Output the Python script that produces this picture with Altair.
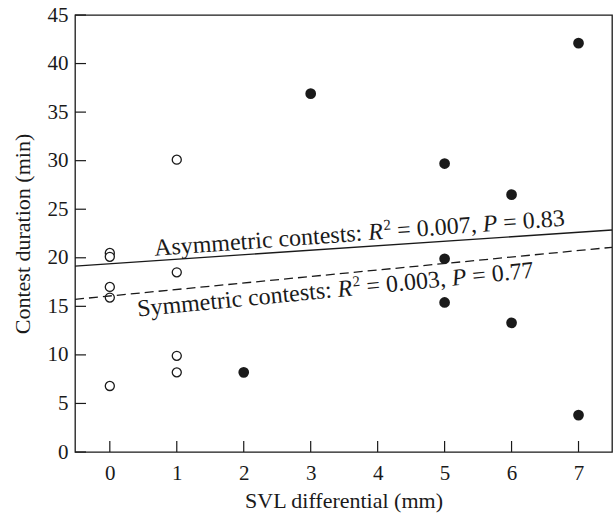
import altair as alt
import pandas as pd

# ---- data ----
sym_x = [0, 0, 0, 0, 0, 1, 1, 1, 1]
sym_y = [20.5, 20.1, 17.0, 15.9, 6.8, 30.1, 18.5, 9.9, 8.2]
asym_x = [2, 3, 5, 5, 5, 6, 6, 7, 7]
asym_y = [8.2, 36.9, 29.7, 19.9, 15.4, 26.5, 13.3, 42.1, 3.8]

line_x = [-0.52, 7.5]
asym_line_y = [19.15, 22.86]
sym_line_y = [15.72, 21.08]

x_ticks = [0, 1, 2, 3, 4, 5, 6, 7]
y_ticks = [0, 5, 10, 15, 20, 25, 30, 35, 40, 45]

asym_label = ["Asymmetric contests:", "R", "2", "= 0.007,", "P", "= 0.83"]
sym_label = ["Symmetric contests:", "R", "2", "= 0.003,", "P", "= 0.77"]
asym_anchor = (0.67, 20.2)
sym_anchor = (0.42, 13.95)

INK = "#1a1a1a"
FONT = "Liberation Serif"
W, H = 537, 437
FA = 24          # annotation font size
SUP = 15         # superscript size

xs = alt.Scale(domain=[-0.52, 7.5], nice=False, zero=False)
ys = alt.Scale(domain=[0, 45], nice=False, zero=False)

pts_sym = pd.DataFrame({"x": sym_x, "y": sym_y})
pts_asym = pd.DataFrame({"x": asym_x, "y": asym_y})
lines_df = pd.DataFrame({"x": line_x, "a": asym_line_y, "s": sym_line_y})

xaxis = alt.Axis(values=x_ticks, format="d", title="SVL differential (mm)",
                 labelPadding=10, titlePadding=7)
yaxis = alt.Axis(values=y_ticks, format="d", title="Contest duration (min)",
                 labelPadding=7, titlePadding=13)

open_pts = alt.Chart(pts_sym).mark_point(shape="circle", filled=False, size=82,
                                         stroke=INK, strokeWidth=1.3, fill="white",
                                         opacity=1).encode(
    x=alt.X("x:Q", scale=xs, axis=xaxis), y=alt.Y("y:Q", scale=ys, axis=yaxis))
fill_pts = alt.Chart(pts_asym).mark_point(shape="circle", filled=True, size=115,
                                          color=INK, opacity=1).encode(
    x=alt.X("x:Q", scale=xs), y=alt.Y("y:Q", scale=ys))

asym_line = alt.Chart(lines_df).mark_line(color=INK, strokeWidth=1.3).encode(
    x=alt.X("x:Q", scale=xs), y=alt.Y("a:Q", scale=ys))
sym_line = alt.Chart(lines_df).mark_line(color=INK, strokeWidth=1.3, strokeDash=[9, 5]).encode(
    x=alt.X("x:Q", scale=xs), y=alt.Y("s:Q", scale=ys))

# inward ticks
yt = alt.Chart(pd.DataFrame({"v": y_ticks})).mark_rule(color=INK, strokeWidth=1.2).encode(
    y=alt.Y("v:Q", scale=ys), x=alt.value(0), x2=alt.value(11))
xt = alt.Chart(pd.DataFrame({"v": x_ticks})).mark_rule(color=INK, strokeWidth=1.2).encode(
    x=alt.X("v:Q", scale=xs), y=alt.value(H - 11), y2=alt.value(H))

# rich-text labels built from segments (Times-metric advance widths, per em)
SP = 0.25 * FA
def seg_widths(parts):
    first = {"Asymmetric contests:": 8.694, "Symmetric contests:": 8.139}[parts[0]]
    return [first * FA, 0.611 * FA, 0.5 * SUP, 3.314 * FA, 0.611 * FA, 2.564 * FA]

def label_layers(parts, anchor, angle):
    w = seg_widths(parts)
    gaps = [SP, 1, SP, SP, SP, 0]
    layers = []
    pos = 0.0
    for i, t in enumerate(parts):
        size = SUP if i == 2 else FA
        style = "italic" if i in (1, 4) else "normal"
        dy = -9 if i == 2 else 0
        df = pd.DataFrame({"x": [anchor[0]], "y": [anchor[1]], "t": [t]})
        layers.append(alt.Chart(df).mark_text(
            align="left", baseline="alphabetic", angle=angle, dx=pos, dy=dy,
            font=FONT, fontSize=size, fontStyle=style, color=INK).encode(
            x=alt.X("x:Q", scale=xs), y=alt.Y("y:Q", scale=ys),
            text="t:N"))
        pos += w[i] + gaps[i]
    return layers

asym_txt = label_layers(asym_label, asym_anchor, 360 - 4.2)
sym_txt = label_layers(sym_label, sym_anchor, 360 - 5.6)

chart = alt.layer(open_pts, fill_pts, asym_line, sym_line, yt, xt, *asym_txt, *sym_txt).properties(
    width=W, height=H,
    autosize=alt.AutoSizeParams(type="none"),
    padding={"left": 75, "top": 15, "right": 1, "bottom": 63},
).configure(background="white"
).configure_view(stroke=INK, strokeWidth=1.3
).configure_axis(grid=False, domain=False, ticks=False, tickSize=0,
                 labelFont=FONT, labelFontSize=21, labelColor=INK,
                 titleFont=FONT, titleFontSize=22, titleColor=INK, titleFontWeight="normal")

chart.save("out.html", embed_options={"renderer": "svg", "actions": False})
